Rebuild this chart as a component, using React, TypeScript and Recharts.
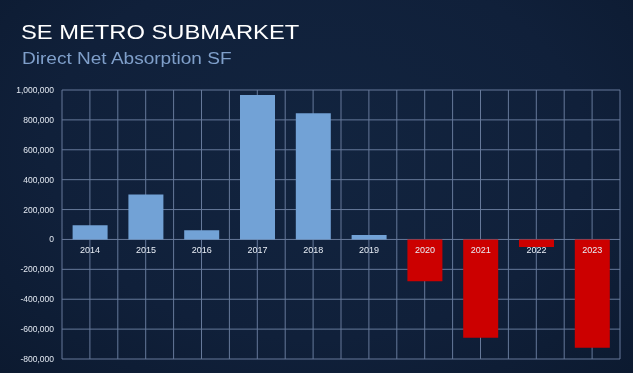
import { BarChart, Bar, XAxis, YAxis, CartesianGrid, Cell, LabelList } from "recharts";

const years = ["2014", "2015", "2016", "2017", "2018", "2019", "2020", "2021", "2022", "2023"];
const absorption = [95000, 300000, 62000, 966000, 845000, 30000, -279000, -658000, -51000, -725000];
const yTicks = [1000000, 800000, 600000, 400000, 200000, 0, -200000, -400000, -600000, -800000];

const data = years.map((y, i) => ({ year: y, value: absorption[i] }));

const BG = "#10203a";
const GRID = "#66799a";
const BLUE = "#72a2d6";
const RED = "#cc0000";

const fmt = (v: number) => (v === 0 ? "0" : v.toLocaleString("en-US"));

// grid lines at category edges and centres
const verticalLines = ({ offset }: any) => {
  const n = years.length;
  const step = offset.width / n;
  const out: number[] = [];
  for (let i = 0; i <= n * 2; i++) out.push(offset.left + (i * step) / 2);
  return out;
};

const YearLabel = (props: any) => {
  const { x, y, width, height, value, index } = props;
  const v = absorption[index];
  const base = v >= 0 ? Math.max(y, y + height) : Math.min(y, y + height);
  return (
    <text x={x + width / 2} y={base + 14} textAnchor="middle" fill="#e8eef6" fontSize={9} fontFamily="Arial, 'Liberation Sans', sans-serif">
      {value}
    </text>
  );
};

export default function App() {
  return (
    <div style={{ position: "fixed", left: 0, top: 0, width: 633, height: 373, background: `radial-gradient(ellipse at 50% 40%, #12243f 0%, ${BG} 60%, #0c1a30 100%)`, overflow: "hidden", fontFamily: "Arial, 'Liberation Sans', sans-serif" }}>
      <div style={{ position: "absolute", left: 21, top: 21, fontSize: 21, lineHeight: "21px", color: "#ffffff", transform: "scaleX(1.13)", transformOrigin: "left", whiteSpace: "nowrap" }}>
        SE METRO SUBMARKET
      </div>
      <div style={{ position: "absolute", left: 22, top: 51, fontSize: 16, lineHeight: "16px", color: "#7f9fca", transform: "scaleX(1.19)", transformOrigin: "left", whiteSpace: "nowrap" }}>
        Direct Net Absorption SF
      </div>
      <BarChart width={633} height={373} data={data} margin={{ top: 90, right: 13, bottom: 14, left: 0 }} barCategoryGap="19%">
        <CartesianGrid stroke={GRID} strokeWidth={1} verticalCoordinatesGenerator={verticalLines} />
        <XAxis dataKey="year" hide />
        <YAxis
          width={62}
          domain={[-800000, 1000000]}
          ticks={yTicks}
          interval={0}
          tickFormatter={fmt}
          axisLine={false}
          tickLine={false}
          tickSize={0}
          tickMargin={8}
          tick={{ fill: "#e3e9f2", fontSize: 8.5, fontFamily: "Arial, 'Liberation Sans', sans-serif" }}
        />
        <Bar dataKey="value" isAnimationActive={false}>
          {data.map((d) => (
            <Cell key={d.year} fill={d.value >= 0 ? BLUE : RED} />
          ))}
          <LabelList dataKey="year" content={YearLabel} />
        </Bar>
      </BarChart>
    </div>
  );
}
